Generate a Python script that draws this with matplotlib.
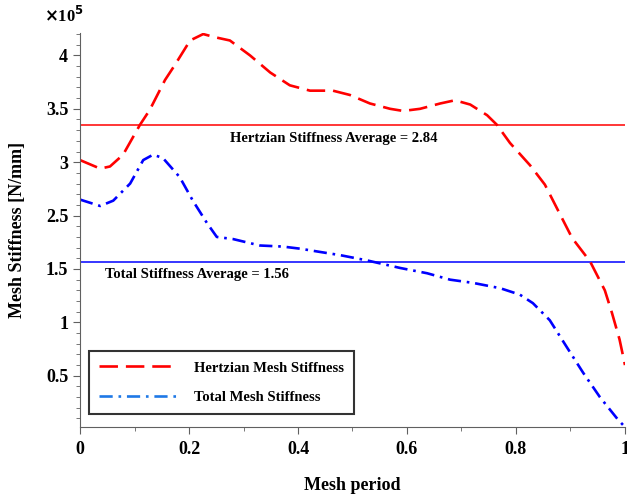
import matplotlib.pyplot as plt
from matplotlib.ticker import MultipleLocator, FixedLocator, FixedFormatter

plt.rcParams['font.family'] = ['Liberation Serif', 'DejaVu Serif']
plt.rcParams['font.weight'] = 'bold'

# Hertzian mesh stiffness (x1e5 N/mm) over one mesh period
hertz_x = [0.0, 0.037, 0.055, 0.079, 0.110, 0.128, 0.156, 0.174, 0.202, 0.226,
           0.248, 0.275, 0.312, 0.349, 0.385, 0.422, 0.464, 0.495, 0.532, 0.569,
           0.593, 0.624, 0.661, 0.688, 0.716, 0.747, 0.765, 0.789, 0.826, 0.853,
           0.877, 0.903, 0.936, 0.963, 0.976, 0.990, 1.0]
hertz_y = [3.02, 2.94, 2.96, 3.07, 3.35, 3.49, 3.77, 3.91, 4.14, 4.20,
           4.17, 4.14, 4.00, 3.84, 3.72, 3.67, 3.67, 3.63, 3.55, 3.50,
           3.48, 3.50, 3.55, 3.58, 3.54, 3.44, 3.35, 3.18, 2.97, 2.79,
           2.55, 2.29, 2.07, 1.80, 1.59, 1.34, 1.10]

# Total mesh stiffness
total_x = [0.0, 0.037, 0.061, 0.092, 0.116, 0.134, 0.152, 0.183, 0.207, 0.233,
           0.251, 0.281, 0.330, 0.372, 0.404, 0.440, 0.477, 0.527, 0.587, 0.637,
           0.679, 0.721, 0.771, 0.807, 0.831, 0.862, 0.893, 0.923, 0.954, 0.987, 1.0]
total_y = [2.65, 2.59, 2.64, 2.80, 3.02, 3.07, 3.04, 2.86, 2.64, 2.43,
           2.30, 2.28, 2.22, 2.21, 2.19, 2.16, 2.13, 2.08, 2.01, 1.96,
           1.90, 1.87, 1.82, 1.76, 1.68, 1.52, 1.27, 1.03, 0.80, 0.59, 0.52]

hertz_avg_level = 3.345
total_avg_level = 2.07

ytick_pos = [1.0, 1.5, 2.0, 2.5, 3.0, 3.5, 4.0]
ytick_labels = ['0.5', '1', '1.5', '2.5', '3', '3.5', '4']

fig = plt.figure(figsize=(6.27, 4.97), dpi=100)
ax = fig.add_axes([0.1276, 0.1408, 0.8692, 0.7928])

ax.axhline(hertz_avg_level, color='#ff0000', lw=1.1)
ax.axhline(total_avg_level, color='#0000ff', lw=1.1)

ax.plot(hertz_x, hertz_y, color='#ff0000', lw=1.9, dashes=(7, 3))
ax.plot(total_x, total_y, color='#0000ff', lw=1.9, dashes=(5, 2.2, 1, 2.2))

ax.text(0.275, hertz_avg_level - 0.06, 'Hertzian Stiffness Average = 2.84',
        fontsize=10.5, fontweight='bold', va='top')
ax.text(0.045, total_avg_level - 0.06, 'Total Stiffness Average = 1.56',
        fontsize=10.5, fontweight='bold', va='top')

# legend
h1, = ax.plot([], [], color='#ff0000', lw=1.9, dashes=(7, 3, 7, 3, 7, 3, 1, 3))
h2, = ax.plot([], [], color='#1e78e6', lw=1.9, dashes=(5, 2.2, 1, 2.2))
leg = ax.legend([h1, h2], ['Hertzian Mesh Stiffness', 'Total Mesh Stiffness'],
                loc='lower left', bbox_to_anchor=(0.0165, 0.033), borderaxespad=0,
                frameon=True, fancybox=False, edgecolor='black', fontsize=10.5,
                handlelength=5.3, handletextpad=1.2, borderpad=0.7,
                labelspacing=1.1)
leg.get_frame().set_linewidth(1.5)

ax.set_xlim(0, 1)
ax.set_ylim(0.52, 4.21)
ax.xaxis.set_minor_locator(MultipleLocator(0.1))
ax.set_xticks([0, 0.2, 0.4, 0.6, 0.8, 1.0])
ax.set_xticklabels(['0', '0.2', '0.4', '0.6', '0.8', '1'])
ax.yaxis.set_major_locator(FixedLocator(ytick_pos))
ax.yaxis.set_major_formatter(FixedFormatter(ytick_labels))
ax.yaxis.set_minor_locator(MultipleLocator(0.1))

for s in ['top', 'right']:
    ax.spines[s].set_visible(False)
for s in ['left', 'bottom']:
    ax.spines[s].set_color('#606060')
ax.tick_params(axis='both', which='major', direction='out', length=5,
               color='#606060', labelsize=13)
ax.tick_params(axis='both', which='minor', direction='out', length=3,
               color='#606060')
ax.tick_params(axis='x', pad=5)

ax.set_xlabel('Mesh period', fontsize=13, fontweight='bold', labelpad=14)
ax.set_ylabel('Mesh Stiffness [N/mm]', fontsize=13, fontweight='bold', labelpad=14)
fig.text(0.07, 0.955, r'$\times$10$^5$', fontsize=12, fontweight='bold')

fig.savefig('out.png', dpi=100)
